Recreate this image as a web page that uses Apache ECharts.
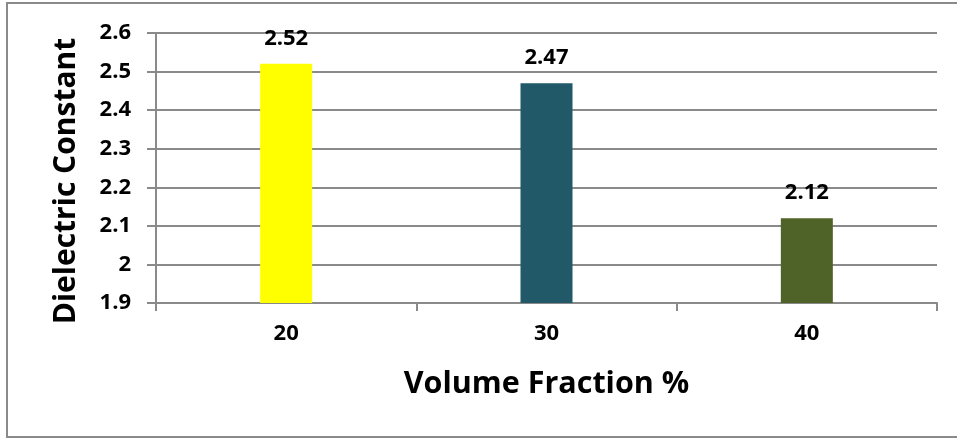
<!DOCTYPE html>
<html>
<head>
<meta charset="utf-8">
<script src="https://cdn.jsdelivr.net/npm/echarts@6/dist/echarts.min.js"></script>
<style>
html,body{margin:0;padding:0;background:#fff;}
#c{width:957px;height:439px;}
</style>
</head>
<body>
<div id="c"></div>
<script>
const categories = ['20', '30', '40'];
const values = [2.52, 2.47, 2.12];
const barColors = ['#FFFF00', '#215968', '#4F6228'];
const yTicks = { min: 1.9, max: 2.6, interval: 0.1 };
const xTitle = 'Volume Fraction %';
const yTitle = 'Dielectric Constant';

const FONT = '"Open Sans", sans-serif';
const chart = echarts.init(document.getElementById('c'), null, { renderer: 'canvas' });
chart.setOption({
  animation: false,
  backgroundColor: '#fff',
  graphic: [{
    type: 'rect',
    shape: { x: 7, y: 3, width: 1000, height: 434 },
    style: { fill: 'none', stroke: '#8a8a8a', lineWidth: 2 },
    silent: true
  }],
  grid: { left: 156, right: 20, top: 33, bottom: 136 },
  xAxis: {
    type: 'category',
    data: categories,
    name: xTitle,
    nameLocation: 'middle',
    nameGap: 66,
    nameTextStyle: { fontFamily: FONT, fontWeight: 'bold', fontSize: 30.5, color: '#000' },
    axisLine: { lineStyle: { color: '#8a8a8a', width: 2 } },
    axisTick: { show: true, length: 8, lineStyle: { color: '#8a8a8a', width: 2 } },
    axisLabel: { fontFamily: FONT, fontWeight: 'bold', fontSize: 22, color: '#000', margin: 20 }
  },
  yAxis: {
    type: 'value',
    min: yTicks.min, max: yTicks.max, interval: yTicks.interval,
    name: yTitle,
    nameLocation: 'middle',
    nameGap: 75,
    nameRotate: 90,
    nameTextStyle: { fontFamily: FONT, fontWeight: 'bold', fontSize: 30, color: '#000', padding: [0, 26, 0, 0] },
    axisLine: { show: true, lineStyle: { color: '#8a8a8a', width: 2 } },
    axisTick: { show: true, length: 9, lineStyle: { color: '#8a8a8a', width: 2 } },
    splitLine: { show: true, lineStyle: { color: '#8a8a8a', width: 2 } },
    axisLabel: {
      fontFamily: FONT, fontWeight: 'bold', fontSize: 22, color: '#000', margin: 25,
      formatter: v => String(+v.toFixed(1))
    }
  },
  series: [{
    type: 'bar',
    data: values.map((v, i) => ({ value: v, itemStyle: { color: barColors[i] } })),
    barWidth: 52,
    label: {
      show: true, position: 'top', distance: 14,
      fontFamily: FONT, fontWeight: 'bold', fontSize: 22, color: '#000',
      formatter: p => p.value.toFixed(2)
    }
  }]
});
</script>
</body>
</html>
